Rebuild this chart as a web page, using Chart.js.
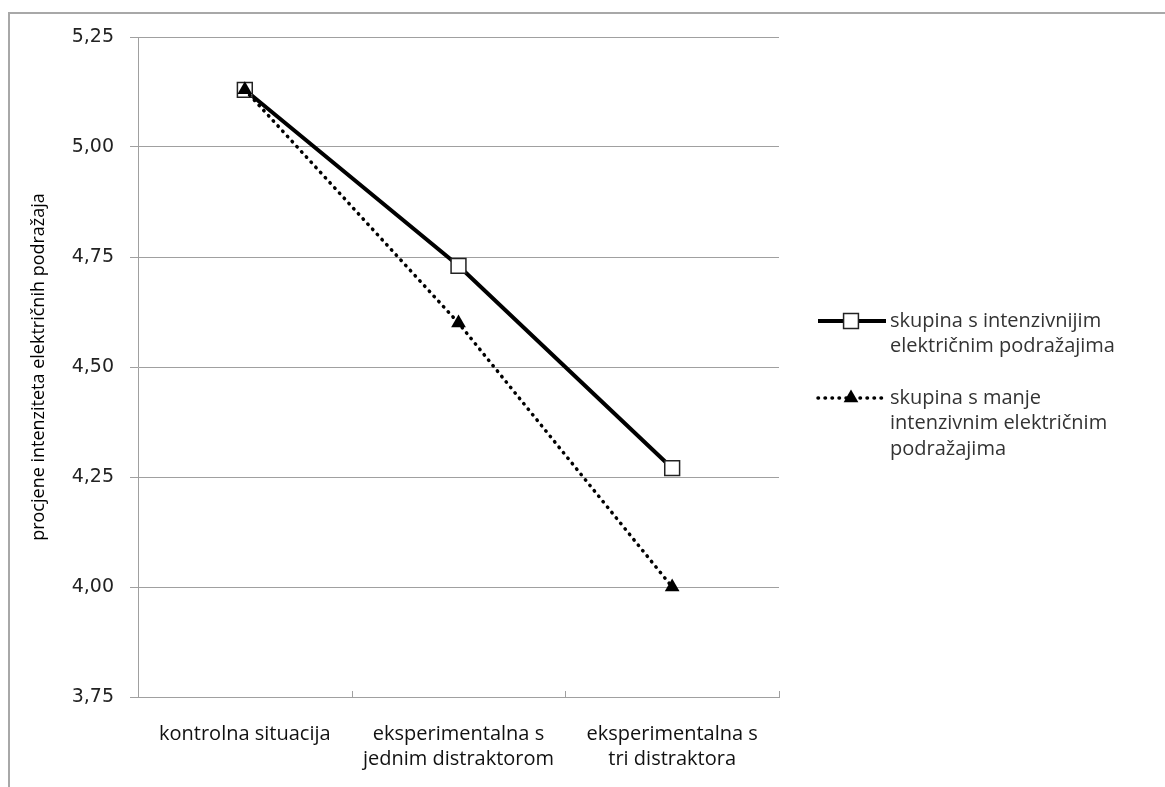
<!DOCTYPE html>
<html>
<head>
<meta charset="utf-8">
<script src="https://cdn.jsdelivr.net/npm/chart.js@4/dist/chart.umd.min.js"></script>
<style>
  html, body { margin: 0; padding: 0; background: #fff; }
  #wrap { position: relative; width: 1165px; height: 787px; }
</style>
</head>
<body>
<div id="wrap"><canvas id="chart" width="1165" height="787"></canvas></div>
<script>
const categories = ['kontrolna situacija', ['eksperimentalna s', 'jednim distraktorom'], ['eksperimentalna s', 'tri distraktora']]
const strongGroup = [5.13, 4.73, 4.27]
const weakGroup = [5.13, 4.60, 4.00]
const seriesNames = [
  ['skupina s intenzivnijim', 'električnim podražajima'],
  ['skupina s manje', 'intenzivnim električnim', 'podražajima']
]
const yTitle = 'procjene intenziteta električnih podražaja'

const textFont = '"Open Sans", Lato, sans-serif'
const gridColor = '#a0a0a0'

// frame + upward category ticks + legend on the right
const decorPlugin = {
  id: 'decor',
  beforeDraw(chart) {
    const ctx = chart.ctx
    ctx.save()
    ctx.fillStyle = '#fff'
    ctx.fillRect(0, 0, chart.width, chart.height)
    ctx.strokeStyle = '#a8a8a8'
    ctx.lineWidth = 2
    ctx.beginPath()
    ctx.moveTo(9, chart.height)
    ctx.lineTo(9, 13)
    ctx.lineTo(chart.width, 13)
    ctx.stroke()
    ctx.restore()
  },
  afterDraw(chart) {
    const ctx = chart.ctx
    const area = chart.chartArea
    ctx.save()
    ctx.strokeStyle = gridColor
    ctx.lineWidth = 1
    const n = categories.length
    for (let i = 1; i <= n; i++) {
      const x = Math.round(area.left + (area.right - area.left) * i / n) + 0.5
      ctx.beginPath()
      ctx.moveTo(x, area.bottom)
      ctx.lineTo(x, area.bottom - 6)
      ctx.stroke()
    }

    const rows = [321, 398]
    chart.data.datasets.forEach((ds, i) => {
      const y = rows[i]
      const x0 = 818, x1 = 886, xm = 851
      ctx.save()
      ctx.strokeStyle = ds.borderColor
      ctx.lineWidth = ds.borderWidth
      ctx.lineCap = ds.borderCapStyle || 'butt'
      ctx.setLineDash(ds.borderDash || [])
      ctx.beginPath()
      ctx.moveTo(x0, y)
      ctx.lineTo(x1, y)
      ctx.stroke()
      ctx.restore()

      ctx.save()
      ctx.fillStyle = ds.pointBackgroundColor
      ctx.strokeStyle = ds.pointBorderColor
      ctx.lineWidth = ds.pointBorderWidth
      Chart.helpers.drawPoint(ctx, { pointStyle: ds.pointStyle, radius: ds.pointRadius, borderWidth: ds.pointBorderWidth, rotation: 0 }, xm, y)
      ctx.restore()

      ctx.save()
      ctx.fillStyle = '#333'
      ctx.font = '20px ' + textFont
      ctx.textBaseline = 'middle'
      seriesNames[i].forEach((line, k) => {
        ctx.fillText(line, 890, y + k * 25.5)
      })
      ctx.restore()
    })
    ctx.restore()
  }
}

new Chart(document.getElementById('chart'), {
  type: 'line',
  data: {
    labels: categories,
    datasets: [
      {
        label: seriesNames[0].join(' '),
        data: strongGroup,
        order: 1,
        borderColor: '#000',
        borderWidth: 4,
        pointStyle: 'rect',
        pointRadius: 10.5,
        pointBackgroundColor: '#fff',
        pointBorderColor: '#222',
        pointBorderWidth: 1.5,
        tension: 0
      },
      {
        label: seriesNames[1].join(' '),
        data: weakGroup,
        order: 0,
        borderColor: '#000',
        borderWidth: 3.5,
        borderDash: [0.5, 6.5],
        borderCapStyle: 'round',
        pointStyle: 'triangle',
        pointRadius: 8.5,
        pointBackgroundColor: '#000',
        pointBorderColor: '#000',
        pointBorderWidth: 0,
        tension: 0
      }
    ]
  },
  options: {
    responsive: false,
    animation: false,
    layout: { padding: { top: 37, right: 386, bottom: 0, left: 0 } },
    plugins: {
      legend: { display: false },
      tooltip: { enabled: false }
    },
    scales: {
      x: {
        offset: true,
        grid: { display: false, drawTicks: false },
        border: { display: true, color: gridColor, width: 1 },
        ticks: {
          color: '#111',
          font: { family: textFont, size: 20, lineHeight: 1.25 },
          padding: 25,
          maxRotation: 0,
          autoSkip: false
        },
        afterFit(scale) { scale.height = 90 }
      },
      y: {
        min: 3.75,
        max: 5.25,
        ticks: {
          stepSize: 0.25,
          color: '#222',
          font: { family: '"DejaVu Sans", sans-serif', size: 19 },
          padding: 16,
          callback: v => v.toFixed(2).replace('.', ',')
        },
        grid: { color: gridColor, lineWidth: 1, tickLength: 8 },
        border: { display: true, color: gridColor, width: 1 },
        title: {
          display: true,
          text: yTitle,
          color: '#000',
          font: { family: textFont, size: 18 },
          padding: { top: 28, bottom: 0 }
        },
        afterFit(scale) { scale.width = 138 }
      }
    }
  },
  plugins: [decorPlugin]
})
</script>
</body>
</html>
